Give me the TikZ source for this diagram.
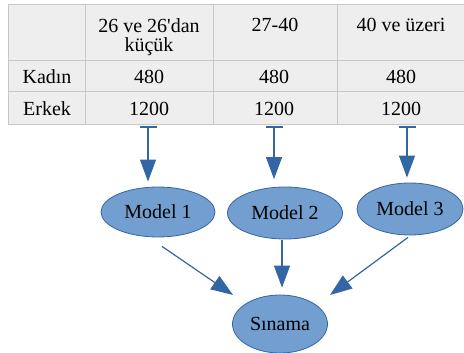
\documentclass[tikz,border=0pt]{standalone}
\usepackage{fontspec}
\setmainfont{Liberation Serif}
\usetikzlibrary{arrows.meta, calc, shapes.geometric}
\definecolor{modelfill}{HTML}{729FCF}
\definecolor{modelline}{HTML}{3465A4}
\definecolor{cellfill}{HTML}{EEEEEE}
\definecolor{cellline}{HTML}{C8C8C8}
\tikzset{
    x=0.75pt, y=-0.75pt, % one unit is one pixel of the sketch, y runs downwards
    every node/.style={font=\fontsize{15}{14.5}\selectfont}, % table and model texts
    cell/.style={inner sep=0pt, anchor=base}, % text of one table cell
    grid/.style={draw=cellline, line width=0.75pt}, % table rules
    model/.style={ellipse, draw=modelline, fill=modelfill, line width=0.6pt, inner sep=0pt},
    link/.style={draw=modelline, line width=0.9pt, -{Triangle[length=16.5pt, width=12pt]}},
    feed/.style={link, {Bar[width=12.75pt, line width=1.5pt]}-{Triangle[length=16.5pt, width=12pt]}},
}

\begin{document}
\begin{tikzpicture}
\useasboundingbox (0,0) rectangle (464,353);

% the table
\fill[cellfill] (8,5) rectangle (464,124);
\foreach \y in {5, 61, 92, 124}
    \draw[grid] (8,\y) -- (464,\y);
\foreach \x in {8, 85, 213, 337}
    \draw[grid] (\x,5) -- (\x,124);

\node[cell, align=center] (h1) at (149,52) {26 ve 26\textquotesingle dan\\küçük};
\node[cell]               (h2) at (275,32) {27-40};
\node[cell]               (h3) at (401,32) {40 ve üzeri};
\node[cell]               (kl) at (47,84)  {Kadın};
\node[cell]               (k1) at (149,84) {480};
\node[cell]               (k2) at (274,84) {480};
\node[cell]               (k3) at (401,84) {480};
\node[cell]               (el) at (47,115) {Erkek};
\node[cell]               (e1) at (149,115) {1200};
\node[cell]               (e2) at (274,115) {1200};
\node[cell]               (e3) at (401,115) {1200};

\coordinate (t1) at (148,126);
\coordinate (t2) at (274,126);
\coordinate (t3) at (407,126);

% the models
\node[model, minimum width=85.5pt,  minimum height=37.5pt]  (m1)  at (158,212) {Model 1};
\node[model, minimum width=86.25pt, minimum height=39pt]    (m2)  at (285,213) {Model 2};
\node[model, minimum width=79.5pt,  minimum height=39pt]    (m3)  at (410,209) {Model 3};
\node[model, minimum width=71.25pt, minimum height=43.5pt]  (sin) at (280,324) {Sınama};

\draw[feed, shorten >=3.75pt] (t1) -- (t1 |- m1.north);
\draw[feed, shorten >=5.6pt]  (t2) -- (t2 |- m2.north);
\draw[feed, shorten >=3.75pt] (t3) -- (t3 |- m3.north);

\draw[link] ($(m1.south)+(4,9)$)  -- ($(sin.center)+(-47,-29)$);
\draw[link] ($(m2.south)+(-3,1)$) -- ($(sin.north)+(2,-7)$);
\draw[link] ($(m3.south)+(-2,2)$) -- ($(sin.center)+(50,-29)$);
\end{tikzpicture}
\end{document}
